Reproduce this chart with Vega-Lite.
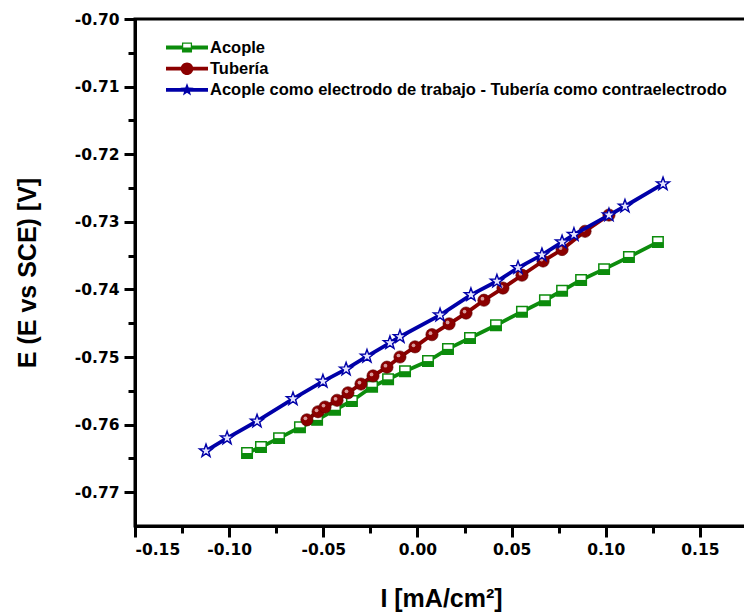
{
  "$schema": "https://vega.github.io/schema/vega-lite/v6.json",
  "width": 612,
  "height": 507,
  "autosize": "none",
  "padding": {"left": 135, "top": 19, "right": 0, "bottom": 86},
  "background": "white",
  "data": {"values": [
    {"series": "Acople", "I": -0.0905, "E": -0.7642},
    {"series": "Acople", "I": -0.0831, "E": -0.7633},
    {"series": "Acople", "I": -0.0735, "E": -0.7620},
    {"series": "Acople", "I": -0.0624, "E": -0.7604},
    {"series": "Acople", "I": -0.0533, "E": -0.7593},
    {"series": "Acople", "I": -0.0438, "E": -0.7578},
    {"series": "Acople", "I": -0.0348, "E": -0.7565},
    {"series": "Acople", "I": -0.0241, "E": -0.7544},
    {"series": "Acople", "I": -0.0156, "E": -0.7533},
    {"series": "Acople", "I": -0.0066, "E": -0.7521},
    {"series": "Acople", "I": 0.0056, "E": -0.7506},
    {"series": "Acople", "I": 0.0162, "E": -0.7488},
    {"series": "Acople", "I": 0.0279, "E": -0.7472},
    {"series": "Acople", "I": 0.0417, "E": -0.7453},
    {"series": "Acople", "I": 0.0555, "E": -0.7433},
    {"series": "Acople", "I": 0.0677, "E": -0.7416},
    {"series": "Acople", "I": 0.0768, "E": -0.7402},
    {"series": "Acople", "I": 0.0869, "E": -0.7386},
    {"series": "Acople", "I": 0.0991, "E": -0.7370},
    {"series": "Acople", "I": 0.1123, "E": -0.7352},
    {"series": "Acople", "I": 0.1277, "E": -0.7330},
    {"series": "Tubería", "I": -0.0587, "E": -0.7593},
    {"series": "Tubería", "I": -0.0528, "E": -0.7581},
    {"series": "Tubería", "I": -0.0491, "E": -0.7574},
    {"series": "Tubería", "I": -0.0427, "E": -0.7564},
    {"series": "Tubería", "I": -0.0369, "E": -0.7553},
    {"series": "Tubería", "I": -0.0300, "E": -0.7540},
    {"series": "Tubería", "I": -0.0236, "E": -0.7528},
    {"series": "Tubería", "I": -0.0162, "E": -0.7515},
    {"series": "Tubería", "I": -0.0093, "E": -0.7500},
    {"series": "Tubería", "I": -0.0013, "E": -0.7485},
    {"series": "Tubería", "I": 0.0077, "E": -0.7467},
    {"series": "Tubería", "I": 0.0168, "E": -0.7451},
    {"series": "Tubería", "I": 0.0258, "E": -0.7435},
    {"series": "Tubería", "I": 0.0353, "E": -0.7416},
    {"series": "Tubería", "I": 0.0454, "E": -0.7398},
    {"series": "Tubería", "I": 0.0555, "E": -0.7379},
    {"series": "Tubería", "I": 0.0667, "E": -0.7358},
    {"series": "Tubería", "I": 0.0768, "E": -0.7341},
    {"series": "Tubería", "I": 0.0890, "E": -0.7314},
    {"series": "Tubería", "I": 0.1017, "E": -0.7290},
    {"series": "Acople como electrodo de trabajo - Tubería como contraelectrodo", "I": -0.1123, "E": -0.7639},
    {"series": "Acople como electrodo de trabajo - Tubería como contraelectrodo", "I": -0.1011, "E": -0.7620},
    {"series": "Acople como electrodo de trabajo - Tubería como contraelectrodo", "I": -0.0852, "E": -0.7595},
    {"series": "Acople como electrodo de trabajo - Tubería como contraelectrodo", "I": -0.0661, "E": -0.7562},
    {"series": "Acople como electrodo de trabajo - Tubería como contraelectrodo", "I": -0.0502, "E": -0.7536},
    {"series": "Acople como electrodo de trabajo - Tubería como contraelectrodo", "I": -0.0379, "E": -0.7518},
    {"series": "Acople como electrodo de trabajo - Tubería como contraelectrodo", "I": -0.0268, "E": -0.7499},
    {"series": "Acople como electrodo de trabajo - Tubería como contraelectrodo", "I": -0.0146, "E": -0.7479},
    {"series": "Acople como electrodo de trabajo - Tubería como contraelectrodo", "I": -0.0093, "E": -0.7470},
    {"series": "Acople como electrodo de trabajo - Tubería como contraelectrodo", "I": 0.0120, "E": -0.7438},
    {"series": "Acople como electrodo de trabajo - Tubería como contraelectrodo", "I": 0.0284, "E": -0.7408},
    {"series": "Acople como electrodo de trabajo - Tubería como contraelectrodo", "I": 0.0422, "E": -0.7388},
    {"series": "Acople como electrodo de trabajo - Tubería como contraelectrodo", "I": 0.0534, "E": -0.7368},
    {"series": "Acople como electrodo de trabajo - Tubería como contraelectrodo", "I": 0.0661, "E": -0.7349},
    {"series": "Acople como electrodo de trabajo - Tubería como contraelectrodo", "I": 0.0768, "E": -0.7330},
    {"series": "Acople como electrodo de trabajo - Tubería como contraelectrodo", "I": 0.0831, "E": -0.7319},
    {"series": "Acople como electrodo de trabajo - Tubería como contraelectrodo", "I": 0.1017, "E": -0.7290},
    {"series": "Acople como electrodo de trabajo - Tubería como contraelectrodo", "I": 0.1102, "E": -0.7277},
    {"series": "Acople como electrodo de trabajo - Tubería como contraelectrodo", "I": 0.1304, "E": -0.7244}
  ]},
  "encoding": {
    "x": {"field": "I", "type": "quantitative", "scale": {"domain": [-0.15, 0.175], "nice": false, "zero": false},
      "axis": {"orient": "bottom",
        "values": [-0.15, -0.125, -0.1, -0.075, -0.05, -0.025, 0, 0.025, 0.05, 0.075, 0.1, 0.125, 0.15],
        "labelExpr": "abs(datum.value*20 - round(datum.value*20)) > 0.01 ? '' : replace(format(datum.value, '.2f'), '\u2212', '-')",
        "tickSize": {"condition": {"test": "abs(datum.value*20 - round(datum.value*20)) > 0.01", "value": 7}, "value": 11},
        "title": "I [mA/cm²]", "titleY": 60}},
    "y": {"field": "E", "type": "quantitative", "scale": {"domain": [-0.775, -0.70], "nice": false, "zero": false},
      "axis": {"orient": "left",
        "values": [-0.70, -0.705, -0.71, -0.715, -0.72, -0.725, -0.73, -0.735, -0.74, -0.745, -0.75, -0.755, -0.76, -0.765, -0.77],
        "labelExpr": "abs(datum.value*100 - round(datum.value*100)) > 0.01 ? '' : replace(format(datum.value, '.2f'), '\u2212', '-')",
        "tickSize": {"condition": {"test": "abs(datum.value*100 - round(datum.value*100)) > 0.01", "value": 7}, "value": 11},
        "title": "E (E vs SCE) [V]", "titleX": -95}}
  },
  "layer": [
    {
      "transform": [{"filter": "datum.series === 'Acople'"}],
      "mark": {"type": "line", "strokeWidth": 3.8},
      "encoding": {
        "color": {"field": "series", "type": "nominal",
          "scale": {"domain": ["Acople", "Tubería", "Acople como electrodo de trabajo - Tubería como contraelectrodo"], "range": ["#0c8c0c", "#8b0000", "#0000a8"]},
          "legend": {
            "orient": "none", "legendX": 41.5, "legendY": 18, "title": null, "padding": 0,
            "symbolSize": 441, "symbolStrokeWidth": 0, "labelOffset": 12.5, "rowPadding": 2.2, "labelLimit": 700,
            "labelFont": "Liberation Sans", "labelFontSize": 16.5, "labelFontWeight": "bold", "labelColor": "black",
            "encode": {"symbols": {"update": {
              "shape": {"signal": "datum.value === 'Acople' ? 'M-2,-0.18H-0.48V0.18H-2Z M0.48,-0.18H2V0.18H0.48Z M-0.48,0H0.48V0.48H-0.48Z M-0.48,-0.48H0.48V-0.36H-0.48Z M-0.48,-0.36H-0.36V0H-0.48Z M0.36,-0.36H0.48V0H0.36Z' : datum.value === 'Tubería' ? 'M-2,-0.18H2V0.18H-2Z M0.6,0A0.6,0.6 0 1,1 -0.6,0A0.6,0.6 0 1,1 0.6,0Z' : 'M-2,-0.18H2V0.18H-2Z M0,-0.65L0.159,-0.218L0.618,-0.201L0.257,0.083L0.382,0.526L0,0.27L-0.382,0.526L-0.257,0.083L-0.618,-0.201L-0.159,-0.218Z'"},
              "fill": {"scale": "color", "field": "value"},
              "stroke": {"value": "transparent"},
              "opacity": {"value": 1},
              "fillOpacity": {"value": 1}
            }}}
          }}
      }
    },
    {
      "transform": [{"filter": "datum.series === 'Acople'"}],
      "mark": {"type": "point", "shape": "square", "filled": true, "fill": "white", "stroke": "#0c8c0c", "strokeWidth": 1.5, "size": 110, "opacity": 1}
    },
    {
      "transform": [{"filter": "datum.series === 'Acople'"}],
      "mark": {"type": "point", "shape": "M-1,0H1V1H-1Z", "filled": true, "fill": "#0c8c0c", "strokeWidth": 0, "size": 110, "opacity": 1}
    },
    {
      "transform": [{"filter": "datum.series === 'Tubería'"}],
      "mark": {"type": "line", "strokeWidth": 3.8},
      "encoding": {"color": {"field": "series", "type": "nominal"}}
    },
    {
      "transform": [{"filter": "datum.series === 'Tubería'"}],
      "mark": {"type": "point", "shape": "circle", "filled": true, "fill": "#8b0000", "stroke": "#5a0000", "strokeWidth": 0.6, "size": 150, "opacity": 1}
    },
    {
      "transform": [{"filter": "datum.series === 'Tubería'"}],
      "mark": {"type": "point", "shape": "circle", "filled": true, "fill": "#d89a9a", "strokeWidth": 0, "size": 14, "xOffset": -1.5, "yOffset": -1.5, "opacity": 1}
    },
    {
      "transform": [{"filter": "datum.series === 'Acople como electrodo de trabajo - Tubería como contraelectrodo'"}],
      "mark": {"type": "line", "strokeWidth": 3.8},
      "encoding": {"color": {"field": "series", "type": "nominal"}}
    },
    {
      "transform": [{"filter": "datum.series === 'Acople como electrodo de trabajo - Tubería como contraelectrodo'"}],
      "mark": {"type": "point", "shape": "M0,-1L0.235,-0.324L0.951,-0.309L0.38,0.124L0.588,0.809L0,0.4L-0.588,0.809L-0.38,0.124L-0.951,-0.309L-0.235,-0.324Z", "filled": true, "fill": "#e4e4ff", "stroke": "#0000a8", "strokeWidth": 1.4, "size": 190, "opacity": 1}
    }
  ],
  "config": {
    "view": {"stroke": "black", "strokeWidth": 3},
    "axis": {
      "grid": false,
      "domainColor": "black", "domainWidth": 3,
      "tickColor": "black", "tickWidth": 3,
      "labelColor": "black", "labelFont": "DejaVu Sans", "labelFontSize": 15.5, "labelFontWeight": "bold", "labelPadding": 5,
      "titleColor": "black", "titleFont": "Liberation Sans", "titleFontSize": 25, "titleFontWeight": "bold"
    }
  }
}
